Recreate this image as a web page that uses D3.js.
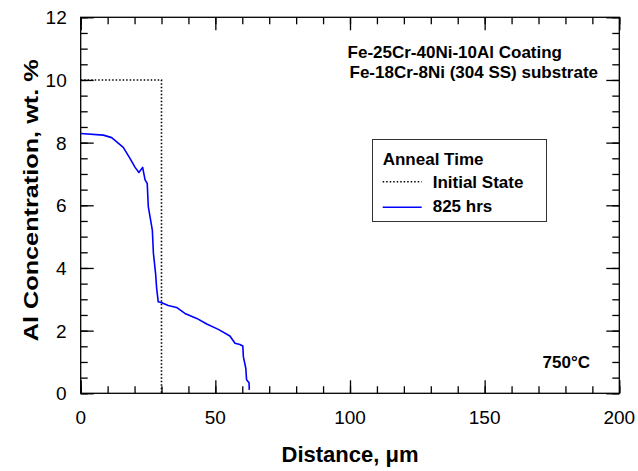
<!DOCTYPE html>
<html>
<head>
<meta charset="utf-8">
<script src="https://cdn.jsdelivr.net/npm/d3@7"></script>
<style>
  body { margin: 0; background: #fff; }
  text { font-family: "Liberation Sans", Arial, sans-serif; }
</style>
</head>
<body>
<div id="chart"></div>
<script>
// data
const initialDistance = [0, 30, 30];
const initialConc = [10, 10, 0];

const annealDistance = [0, 8.4, 11.5, 15.8, 18.3, 20.2, 21.6, 23.0, 23.9, 24.7, 25.1, 26.6, 27.0, 27.8, 28.2, 28.8,
  30.1, 32.5, 35.6, 38.7, 43.1, 46.8, 51.1, 55.4, 57.3, 59.1, 60.2, 60.4, 61.3, 61.6, 62.5, 62.6];
const annealConc = [8.29, 8.24, 8.16, 7.85, 7.50, 7.21, 7.05, 7.21, 6.81, 6.70, 5.96, 5.21, 4.47, 3.83, 3.35, 2.92,
  2.89, 2.80, 2.74, 2.55, 2.39, 2.21, 2.04, 1.83, 1.60, 1.56, 1.51, 1.17, 0.80, 0.43, 0.34, 0.11];

const xMajorTicks = [0, 50, 100, 150, 200];
const xMinorTicks = d3.range(0, 201, 10);
const yMajorTicks = [0, 2, 4, 6, 8, 10, 12];
const yMinorTicks = d3.range(0, 12.01, 0.5);

const legendTitle = "Anneal Time";
const seriesNames = ["Initial State", "825 hrs"];

let dimensions = {
  width: 638,
  height: 471,
  margin: { top: 17.3, right: 18.7, bottom: 77.7, left: 80.7 },
};
dimensions.boundedWidth = dimensions.width - dimensions.margin.left - dimensions.margin.right;
dimensions.boundedHeight = dimensions.height - dimensions.margin.top - dimensions.margin.bottom;

const wrapper = d3.select("#chart")
  .append("svg")
  .attr("width", dimensions.width)
  .attr("height", dimensions.height);

const bounds = wrapper.append("g")
  .attr("transform", `translate(${dimensions.margin.left},${dimensions.margin.top})`);

const xScale = d3.scaleLinear().domain([0, 200]).range([0, dimensions.boundedWidth]);
const yScale = d3.scaleLinear().domain([0, 12]).range([dimensions.boundedHeight, 0]);

// ticks: inward on all four sides, minor + major
const major = 13, minor = 7;
function tickAxis(gen, ticks, size, tx, ty) {
  const g = bounds.append("g")
    .attr("transform", `translate(${tx},${ty})`)
    .call(gen.tickValues(ticks).tickSize(size).tickFormat(""));
  g.select(".domain").remove();
  g.selectAll("line").attr("stroke", "#000").attr("stroke-width", 1.3);
  return g;
}
const W = dimensions.boundedWidth, H = dimensions.boundedHeight;
tickAxis(d3.axisBottom(xScale), xMinorTicks, -minor, 0, H);
tickAxis(d3.axisBottom(xScale), xMajorTicks, -major, 0, H);
tickAxis(d3.axisTop(xScale), xMinorTicks, -minor, 0, 0);
tickAxis(d3.axisTop(xScale), xMajorTicks, -major, 0, 0);
tickAxis(d3.axisLeft(yScale), yMinorTicks, -minor, 0, 0);
tickAxis(d3.axisLeft(yScale), yMajorTicks, -major, 0, 0);
tickAxis(d3.axisRight(yScale), yMinorTicks, -minor, W, 0);
tickAxis(d3.axisRight(yScale), yMajorTicks, -major, W, 0);

// frame
bounds.append("rect")
  .attr("width", W).attr("height", H)
  .attr("fill", "none").attr("stroke", "#000").attr("stroke-width", 1.3);

// tick labels
bounds.append("g").selectAll("text")
  .data(xMajorTicks).join("text")
  .attr("x", d => xScale(d))
  .attr("y", H + 31)
  .attr("text-anchor", "middle")
  .style("font-size", "19px")
  .text(d => d);

bounds.append("g").selectAll("text")
  .data(yMajorTicks).join("text")
  .attr("x", -14)
  .attr("y", d => yScale(d) + 7)
  .attr("text-anchor", "end")
  .style("font-size", "19px")
  .text(d => d);

// axis titles
bounds.append("text")
  .attr("x", W / 2)
  .attr("y", H + 69)
  .attr("text-anchor", "middle")
  .style("font-size", "22px").style("font-weight", "bold")
  .text("Distance, μm");

bounds.append("text")
  .attr("transform", `translate(-42.7,${H / 2 - 5}) rotate(-90)`)
  .attr("text-anchor", "middle")
  .attr("textLength", 282)
  .attr("lengthAdjust", "spacingAndGlyphs")
  .style("font-size", "21px").style("font-weight", "bold")
  .text("Al Concentration, wt. %");

// lines
const line = d3.line().x(d => xScale(d[0])).y(d => yScale(d[1]));

bounds.append("path")
  .datum(d3.zip(initialDistance, initialConc))
  .attr("d", line)
  .attr("fill", "none")
  .attr("stroke", "#000")
  .attr("stroke-width", 1.6)
  .attr("stroke-dasharray", "1.5,2");

bounds.append("path")
  .datum(d3.zip(annealDistance, annealConc))
  .attr("d", line)
  .attr("fill", "none")
  .attr("stroke", "#0000ff")
  .attr("stroke-width", 1.6)
  .attr("stroke-linejoin", "round");

// annotations
const note = wrapper.append("g")
  .style("font-size", "17px").style("font-weight", "bold")
  .attr("text-anchor", "end");
note.append("text").attr("x", 562).attr("y", 58.3).text("Fe-25Cr-40Ni-10Al Coating");
note.append("text").attr("x", 598).attr("y", 78.3).text("Fe-18Cr-8Ni (304 SS) substrate");

wrapper.append("text")
  .attr("x", 590).attr("y", 368.3)
  .attr("text-anchor", "end")
  .style("font-size", "17px").style("font-weight", "bold")
  .text("750°C");

// legend
const legend = wrapper.append("g")
  .style("font-size", "17px").style("font-weight", "bold");
legend.append("rect")
  .attr("x", 372.5).attr("y", 139.5)
  .attr("width", 174).attr("height", 82)
  .attr("fill", "#fff").attr("stroke", "#333").attr("stroke-width", 1);
legend.append("text")
  .attr("x", 382.7).attr("y", 165)
  .text(legendTitle);
legend.append("line")
  .attr("x1", 382.7).attr("x2", 421.7).attr("y1", 181.7).attr("y2", 181.7)
  .attr("stroke", "#000").attr("stroke-width", 1.5).attr("stroke-dasharray", "1.5,2");
legend.append("text")
  .attr("x", 432.7).attr("y", 188.3)
  .text(seriesNames[0]);
legend.append("line")
  .attr("x1", 382.7).attr("x2", 421.7).attr("y1", 207.3).attr("y2", 207.3)
  .attr("stroke", "#0000ff").attr("stroke-width", 1.6);
legend.append("text")
  .attr("x", 432.7).attr("y", 211.7)
  .text(seriesNames[1]);
</script>
</body>
</html>
